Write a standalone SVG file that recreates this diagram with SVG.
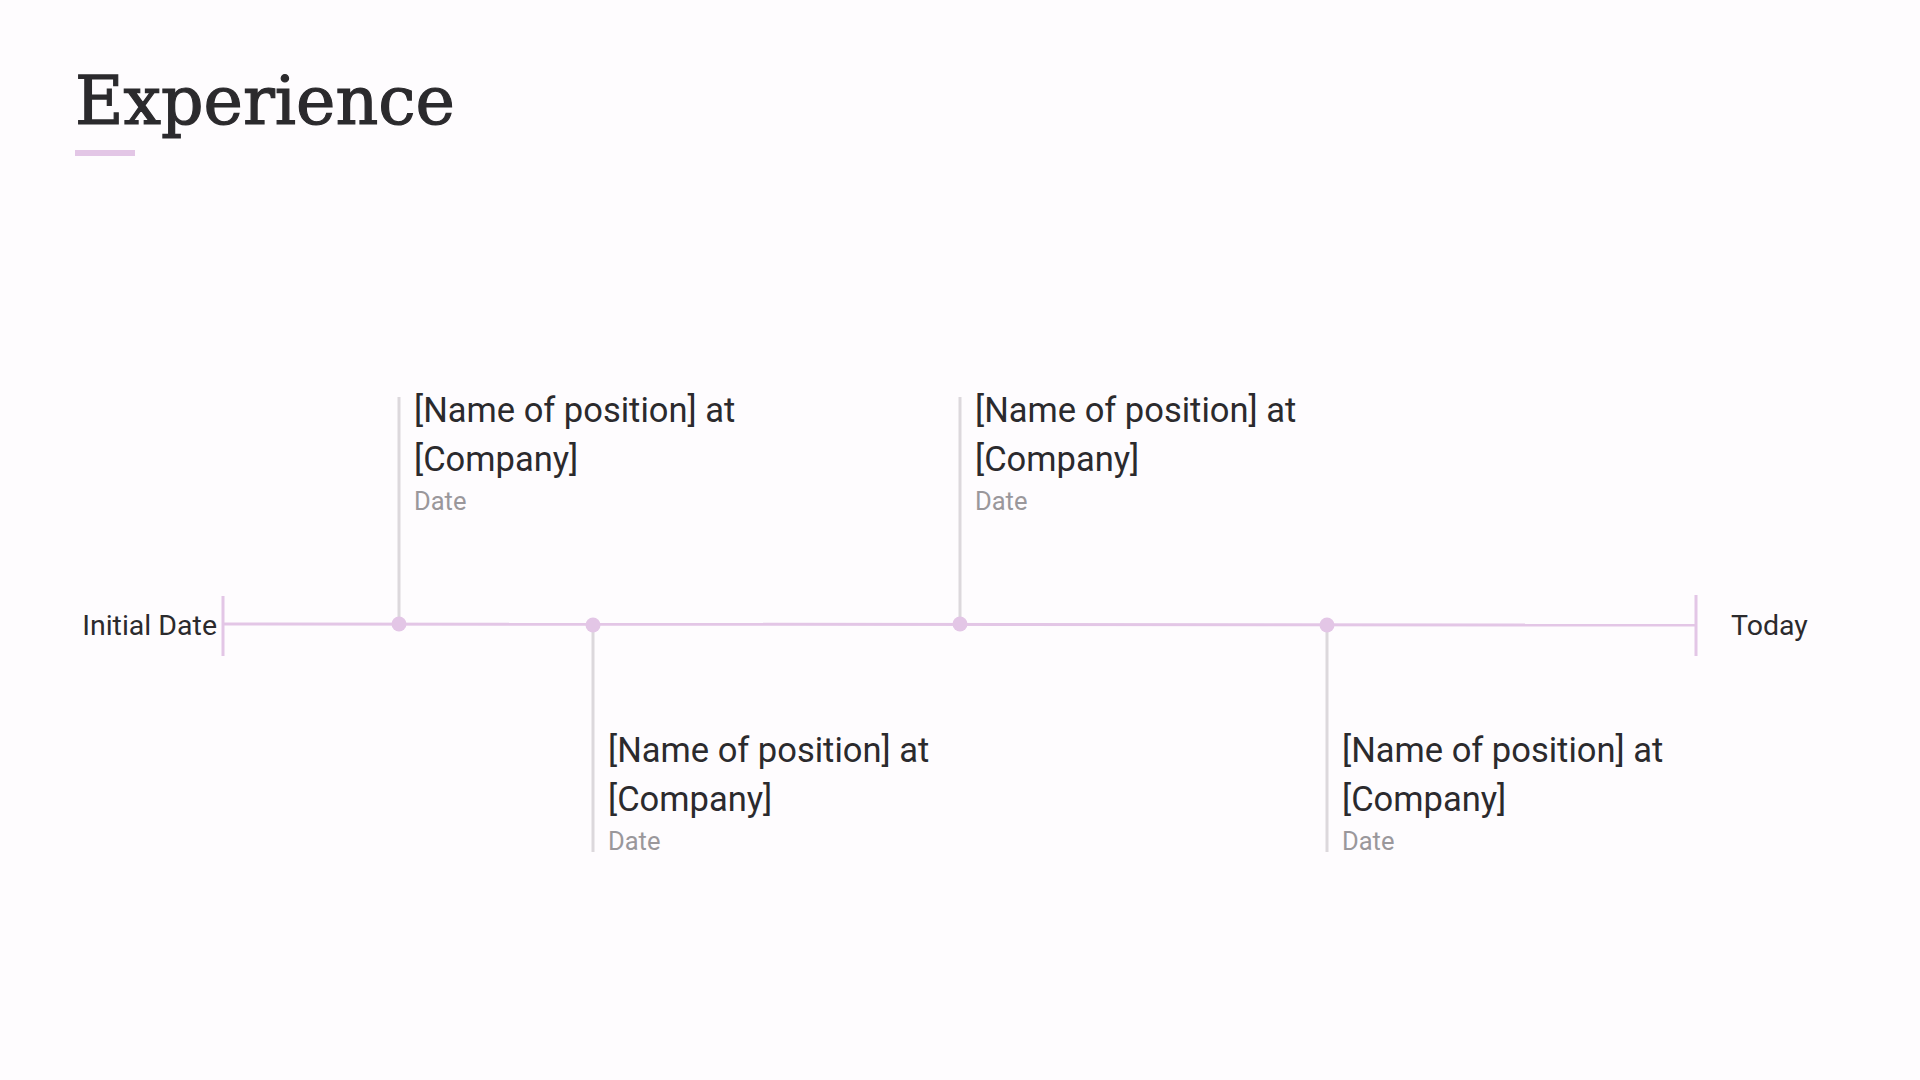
<svg xmlns="http://www.w3.org/2000/svg" width="1920" height="1080" viewBox="0 0 1920 1080">
<style>
.title{font-family:"DejaVu Serif",serif;font-size:66.5px;fill:#2b2a2d;stroke:#2b2a2d;stroke-width:1.2}
.lbl{font-family:Roboto,"Liberation Sans",sans-serif;font-size:28.5px;fill:#2b2a2d}
.pos{font-family:Roboto,"Liberation Sans",sans-serif;font-size:34.5px;fill:#2b2a2d}
.date{font-family:Roboto,"Liberation Sans",sans-serif;font-size:25.5px;fill:#9a979b}
.stem{stroke:#dcd8dc;stroke-width:3;fill:none}
.axis{stroke:#e3c6e6;stroke-width:3;fill:none}
.dot{fill:#e3c6e6}
</style>
<rect width="1920" height="1080" fill="#fefcfe"/>
<text class="title" x="75" y="124">Experience</text>
<rect x="75" y="150" width="60" height="6" fill="#e3c6e6"/>
<g id="connectors">
<line class="axis" x1="223" y1="624" x2="1696" y2="625"/>
<line class="axis" x1="223" y1="596" x2="223" y2="656"/>
<line class="axis" x1="1696" y1="595" x2="1696" y2="656"/>
<line class="stem" x1="399" y1="397" x2="399" y2="624"/>
<line class="stem" x1="593" y1="625" x2="593" y2="852"/>
<line class="stem" x1="960" y1="397" x2="960" y2="624"/>
<line class="stem" x1="1327" y1="625" x2="1327" y2="852"/>
</g>
<g id="start"><text class="lbl" x="217" y="635" text-anchor="end">Initial Date</text></g>
<g id="end"><text class="lbl" x="1731" y="635">Today</text></g>
<g id="job1">
<circle class="dot" cx="399" cy="624" r="7.5"/>
<text class="pos" x="414" y="422">[Name of position] at</text>
<text class="pos" x="414" y="471">[Company]</text>
<text class="date" x="414" y="510">Date</text>
</g>
<g id="job2">
<circle class="dot" cx="593" cy="625" r="7.5"/>
<text class="pos" x="608" y="762">[Name of position] at</text>
<text class="pos" x="608" y="811">[Company]</text>
<text class="date" x="608" y="850">Date</text>
</g>
<g id="job3">
<circle class="dot" cx="960" cy="624" r="7.5"/>
<text class="pos" x="975" y="422">[Name of position] at</text>
<text class="pos" x="975" y="471">[Company]</text>
<text class="date" x="975" y="510">Date</text>
</g>
<g id="job4">
<circle class="dot" cx="1327" cy="625" r="7.5"/>
<text class="pos" x="1342" y="762">[Name of position] at</text>
<text class="pos" x="1342" y="811">[Company]</text>
<text class="date" x="1342" y="850">Date</text>
</g>
</svg>
